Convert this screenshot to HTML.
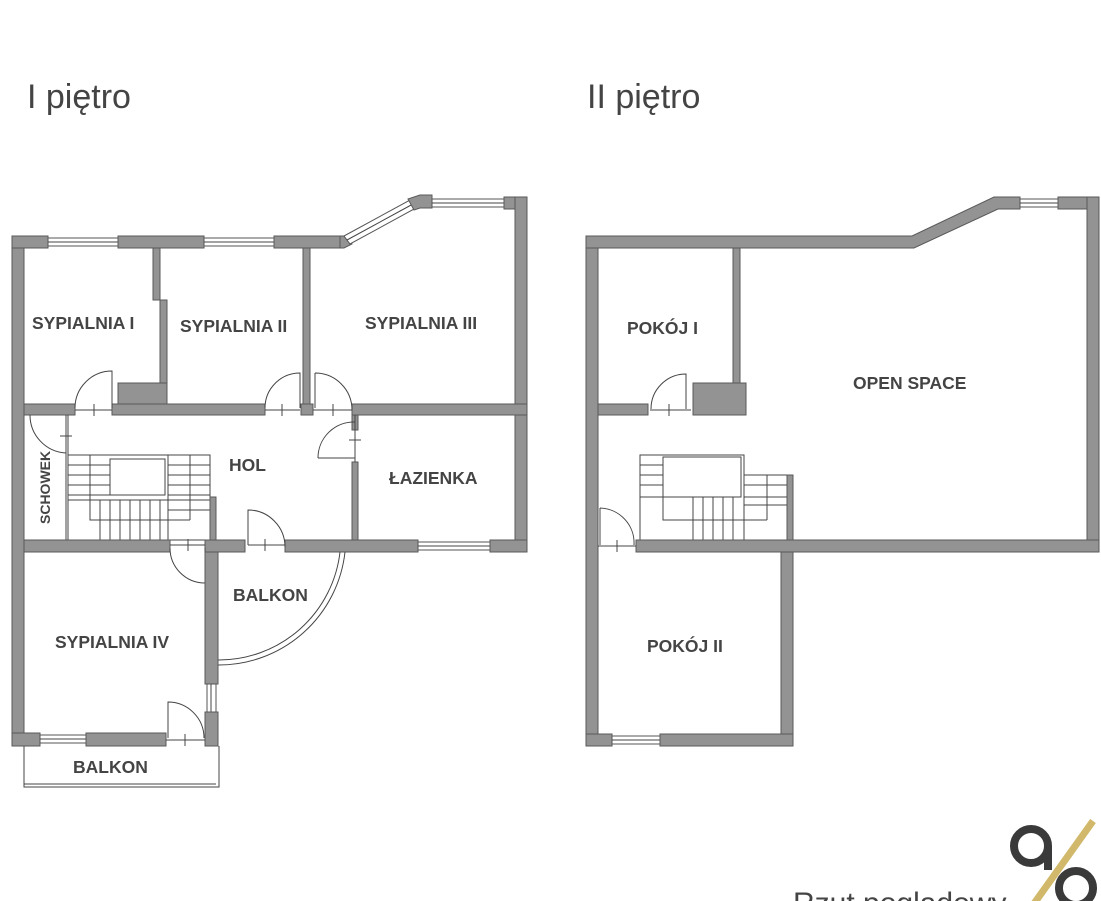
<!DOCTYPE html>
<html><head><meta charset="utf-8"><style>
body{margin:0;background:#fff;width:1101px;height:901px;overflow:hidden}
svg{display:block}
.w{fill:#939393;stroke:#5a5a5a;stroke-width:1}
.l{fill:none;stroke:#444;stroke-width:1}
.win{fill:#fff;stroke:#555;stroke-width:1}
.t{font-family:"Liberation Sans",sans-serif;font-weight:bold;font-size:17.5px;fill:#444}
.h{font-family:"Liberation Sans",sans-serif;font-size:34px;fill:#444}
</style></head><body>
<svg width="1101" height="901" viewBox="0 0 1101 901" xmlns="http://www.w3.org/2000/svg">
<text class="h" x="27" y="108">I piętro</text>
<text class="h" x="587" y="108">II piętro</text>

<!-- LEFT PLAN -->
<g>
<rect class="w" x="12" y="236" width="12" height="510"/>
<rect class="w" x="12" y="236" width="36" height="12"/>
<rect class="win" x="48" y="238" width="70" height="8"/><line class="l" x1="48" y1="242" x2="118" y2="242"/>
<rect class="w" x="118" y="236" width="86" height="12"/>
<rect class="win" x="204" y="238" width="70" height="8"/><line class="l" x1="204" y1="242" x2="274" y2="242"/>
<rect class="w" x="274" y="236" width="66" height="12"/>
<polygon class="w" points="340,236 346,236 352,244 344,248 340,248"/>
<polygon class="win" points="344,236 410,200 416,208 350,244"/>
<line class="l" x1="347" y1="240" x2="413" y2="204"/>
<polygon class="w" points="408,199 420,195 432,195 432,208 420,208 414,210"/>
<rect class="win" x="432" y="199" width="72" height="8"/><line class="l" x1="432" y1="203" x2="504" y2="203"/>
<rect class="w" x="504" y="197" width="23" height="12"/>
<rect class="w" x="515" y="197" width="12" height="355"/>
<rect class="w" x="153" y="248" width="7" height="52"/>
<rect class="w" x="160" y="300" width="7" height="90"/>
<rect class="w" x="118" y="383" width="49" height="32"/>
<rect class="w" x="303" y="248" width="7" height="156"/>
<rect class="w" x="24" y="404" width="51" height="11"/>
<rect class="w" x="112" y="404" width="153" height="11"/>
<rect class="w" x="301" y="404" width="12" height="11"/>
<rect class="w" x="352" y="404" width="175" height="11"/>
<rect class="w" x="352" y="415" width="6" height="15"/>
<rect class="w" x="352" y="462" width="6" height="80"/>
<path class="l" d="M75,408 A37,37 0 0 1 112,371 L112,408"/><line class="l" x1="75" y1="410" x2="112" y2="410"/><line class="l" x1="94" y1="404" x2="94" y2="416"/>
<path class="l" d="M265,408 A35,35 0 0 1 300,373 L300,408"/><line class="l" x1="265" y1="410" x2="300" y2="410"/><line class="l" x1="282" y1="404" x2="282" y2="416"/>
<path class="l" d="M315,373 A37,37 0 0 1 352,410 M315,373 L315,408"/><line class="l" x1="313" y1="410" x2="352" y2="410"/><line class="l" x1="333" y1="404" x2="333" y2="416"/>
<path class="l" d="M318,458 A36,36 0 0 1 355,422 M318,458 L355,458"/><line class="l" x1="355" y1="415" x2="355" y2="462"/><line class="l" x1="349" y1="440" x2="361" y2="440"/>
<path class="l" d="M30,415 A38,38 0 0 0 66,453"/><line class="l" x1="66" y1="415" x2="66" y2="540"/><line class="l" x1="68" y1="415" x2="68" y2="540"/><line class="l" x1="60" y1="436" x2="72" y2="436"/>
<rect class="l" x="68" y="455" width="142" height="85"/>
<rect class="l" x="110" y="459" width="55" height="36"/>
<g class="l">
<line x1="68" y1="465" x2="110" y2="465"/><line x1="68" y1="475" x2="110" y2="475"/><line x1="68" y1="485" x2="110" y2="485"/><line x1="68" y1="495" x2="110" y2="495"/><line x1="68" y1="500" x2="210" y2="500"/>
<line x1="90" y1="455" x2="90" y2="500"/>
<line x1="168" y1="465" x2="210" y2="465"/><line x1="168" y1="475" x2="210" y2="475"/><line x1="168" y1="485" x2="210" y2="485"/><line x1="168" y1="495" x2="210" y2="495"/><line x1="168" y1="510" x2="210" y2="510"/>
<line x1="190" y1="455" x2="190" y2="520"/><line x1="168" y1="455" x2="168" y2="540"/>
<path d="M90,500 L90,520 L190,520"/>
<line x1="100" y1="500" x2="100" y2="540"/><line x1="110" y1="500" x2="110" y2="540"/><line x1="120" y1="500" x2="120" y2="540"/><line x1="130" y1="500" x2="130" y2="540"/><line x1="140" y1="500" x2="140" y2="540"/><line x1="150" y1="500" x2="150" y2="540"/><line x1="160" y1="500" x2="160" y2="540"/>
</g>
<rect class="w" x="210" y="497" width="6" height="45"/>
<rect class="w" x="24" y="540" width="146" height="12"/>
<rect class="w" x="205" y="540" width="40" height="12"/>
<rect class="w" x="285" y="540" width="133" height="12"/>
<rect class="win" x="418" y="542" width="72" height="8"/><line class="l" x1="418" y1="546" x2="490" y2="546"/>
<rect class="w" x="490" y="540" width="37" height="12"/>
<path class="l" d="M170,548 A35,35 0 0 0 205,583 L205,548"/><line class="l" x1="170" y1="545" x2="205" y2="545"/><line class="l" x1="188" y1="539" x2="188" y2="551"/>
<path class="l" d="M248,545 L248,510 A37,37 0 0 1 285,547"/><line class="l" x1="248" y1="545" x2="285" y2="545"/><line class="l" x1="265" y1="539" x2="265" y2="551"/>
<path class="l" d="M340,552 A122,122 0 0 1 218,660"/>
<path class="l" d="M345,552 A127,127 0 0 1 218,665"/>
<rect class="w" x="205" y="552" width="13" height="132"/>
<rect class="win" x="207" y="684" width="9" height="28"/><line class="l" x1="211" y1="684" x2="211" y2="712"/>
<rect class="w" x="205" y="712" width="13" height="34"/>
<rect class="w" x="12" y="733" width="28" height="13"/>
<rect class="win" x="40" y="735" width="46" height="8"/><line class="l" x1="40" y1="739" x2="86" y2="739"/>
<rect class="w" x="86" y="733" width="80" height="13"/>
<path class="l" d="M168,738 L168,702 A36,36 0 0 1 204,738"/><line class="l" x1="166" y1="740" x2="205" y2="740"/><line class="l" x1="185" y1="734" x2="185" y2="746"/>
<path class="l" d="M24,746 L24,787 L219,787 L219,746 M24,784 L216,784"/>
</g>
<text class="t" x="32" y="329">SYPIALNIA I</text>
<text class="t" x="180" y="332">SYPIALNIA II</text>
<text class="t" x="365" y="329">SYPIALNIA III</text>
<text class="t" x="229" y="471">HOL</text>
<text class="t" x="389" y="484">ŁAZIENKA</text>
<text class="t" x="233" y="601">BALKON</text>
<text class="t" x="55" y="648">SYPIALNIA IV</text>
<text class="t" x="73" y="773">BALKON</text>
<text class="t" transform="translate(50,524) rotate(-90)" style="font-size:14px">SCHOWEK</text>

<!-- RIGHT PLAN -->
<g>
<rect class="w" x="586" y="236" width="12" height="510"/>
<polygon class="w" points="586,236 912,236 994,197 1020,197 1020,209 998,209 914,248 586,248"/>
<rect class="win" x="1020" y="199" width="38" height="8"/><line class="l" x1="1020" y1="203" x2="1058" y2="203"/>
<rect class="w" x="1058" y="197" width="41" height="12"/>
<rect class="w" x="1087" y="197" width="12" height="355"/>
<rect class="w" x="733" y="248" width="7" height="135"/>
<rect class="w" x="693" y="383" width="53" height="32"/>
<rect class="w" x="598" y="404" width="50" height="11"/>
<path class="l" d="M651,409 A35,35 0 0 1 686,374 L686,409"/><line class="l" x1="650" y1="410" x2="691" y2="410"/><line class="l" x1="669" y1="404" x2="669" y2="416"/>
<rect class="l" x="640" y="455" width="104" height="85"/>
<rect class="l" x="663" y="457" width="78" height="40"/>
<g class="l">
<line x1="640" y1="465" x2="663" y2="465"/><line x1="640" y1="475" x2="663" y2="475"/><line x1="640" y1="485" x2="663" y2="485"/><line x1="640" y1="497" x2="663" y2="497"/>
<line x1="744" y1="475" x2="787" y2="475"/><line x1="744" y1="485" x2="787" y2="485"/><line x1="744" y1="497" x2="787" y2="497"/><line x1="744" y1="505" x2="787" y2="505"/>
<line x1="744" y1="475" x2="744" y2="540"/><line x1="767" y1="475" x2="767" y2="520"/>
<path d="M663,497 L663,520 L767,520"/>
<line x1="693" y1="497" x2="693" y2="540"/><line x1="703" y1="497" x2="703" y2="540"/><line x1="713" y1="497" x2="713" y2="540"/><line x1="723" y1="497" x2="723" y2="540"/><line x1="733" y1="497" x2="733" y2="540"/>
</g>
<rect class="w" x="787" y="475" width="6" height="67"/>
<rect class="w" x="636" y="540" width="463" height="12"/>
<path class="l" d="M600,508 A35,35 0 0 1 634,545 M600,508 L600,545"/><line class="l" x1="598" y1="546" x2="636" y2="546"/><line class="l" x1="617" y1="540" x2="617" y2="552"/>
<rect class="w" x="781" y="552" width="12" height="194"/>
<rect class="w" x="586" y="734" width="26" height="12"/>
<rect class="win" x="612" y="736" width="48" height="8"/><line class="l" x1="612" y1="740" x2="660" y2="740"/>
<rect class="w" x="660" y="734" width="133" height="12"/>
</g>
<text class="t" x="627" y="334">POKÓJ I</text>
<text class="t" x="853" y="389">OPEN SPACE</text>
<text class="t" x="647" y="652">POKÓJ II</text>

<text x="793" y="913" style="font-family:'Liberation Sans',sans-serif;font-size:30px;fill:#444">Rzut poglądowy</text>
<circle cx="1031" cy="846" r="17" fill="none" stroke="#3a3a3a" stroke-width="8"/>
<line x1="1048" y1="846" x2="1048" y2="870" stroke="#3a3a3a" stroke-width="8"/>
<line x1="1093" y1="821" x2="1033" y2="905" stroke="#d2b86a" stroke-width="7"/>
<circle cx="1076" cy="888" r="17" fill="none" stroke="#3a3a3a" stroke-width="8"/>
</svg>
</body></html>
